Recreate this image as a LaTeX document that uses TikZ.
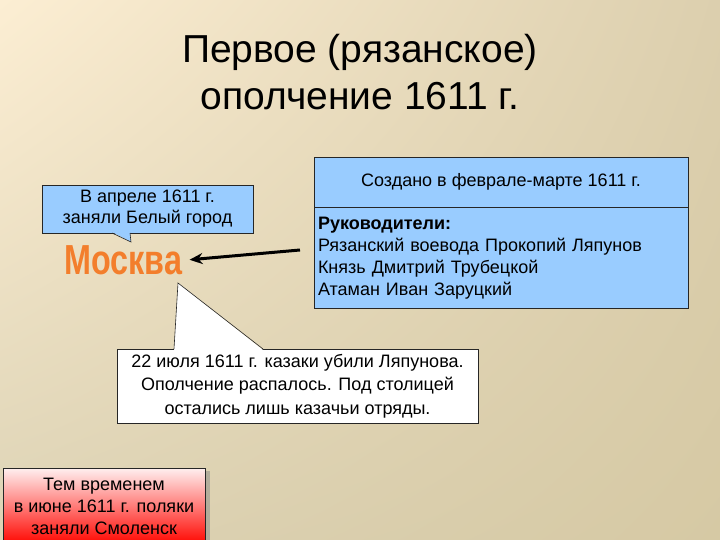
\documentclass[tikz,border=0pt]{standalone}
\usepackage{fontspec}
\setmainfont{Liberation Sans}
\usetikzlibrary{arrows.meta,shadows,shadings}

\definecolor{skyblue}{HTML}{99CCFF}
\definecolor{bgul}{HTML}{FCEED3}
\definecolor{bgur}{HTML}{DCCFAE}
\definecolor{bgll}{HTML}{DDD3B5}
\definecolor{bglr}{HTML}{D6C9A4}
\definecolor{moscoworange}{HTML}{F37E2C}

\tikzset{
  note/.style={draw=black!85, line width=0.6pt, inner sep=4pt, align=center,
    font=\fontsize{18}{23}\selectfont},
  bluenote/.style={note, fill=skyblue},
  whitenote/.style={note, fill=white},
  rednote/.style={note, top color=red!6, bottom color=red!95!orange,
    drop shadow={shadow xshift=5pt, shadow yshift=-3pt, opacity=0.45}},
  pointer/.style={draw=black!85, line width=0.6pt},
  titleline/.style={anchor=base, font=\fontsize{39}{44}\selectfont}
}

\begin{document}
\begin{tikzpicture}[x=1pt, y=-1pt]
  % background
  \useasboundingbox (0,0) rectangle (720,540);
  \shade[upper left=bgul, upper right=bgur, lower left=bgll, lower right=bglr]
    (0,0) rectangle (720,540);

  % title
  \node[titleline] (title1) at (360,63) {Первое (рязанское)};
  \node[titleline] (title2) at (360,110) {ополчение 1611 г.};

  % moscow
  \node[inner sep=0pt, anchor=base, xscale=0.77, text=moscoworange,
        font=\fontsize{42}{42}\bfseries] (moscow) at (123.5,274) {Москва};

  % right box: creation and leaders
  \node[bluenote, minimum width=374pt, minimum height=50pt] (created) at (501,182)
    {Создано в феврале-марте 1611 г.};
  \node[bluenote, minimum width=374pt, minimum height=101pt, text width=366pt,
        align=left, anchor=north, font=\fontsize{18}{22}\selectfont]
        (leaders) at (created.south)
    {\textbf{Руководители:}\\Рязанский воевода Прокопий Ляпунов\\
     Князь Дмитрий Трубецкой\\Атаман Иван Заруцкий};

  % arrow to moscow
  \coordinate (arrowtail) at (300,250);
  \draw[line width=3pt, -{Stealth[length=13pt, width=11pt]}]
    (arrowtail) -- ([xshift=7pt]moscow.east);

  % top left callout
  \node[bluenote, minimum width=211pt, minimum height=48pt,
        font=\fontsize{18}{21}\selectfont] (april) at (147.5,209)
    {В апреле 1611 г.\\заняли Белый город};
  \coordinate (aprtip) at (131,242);
  \fill[skyblue] (112,232) -- (aprtip) -- (130,232) -- cycle;
  \draw[pointer] (112,233) -- (aprtip) -- (130,233);

  % bottom callout
  \node[whitenote, minimum width=361pt, minimum height=74pt,
        font=\fontsize{18}{23.5}\selectfont] (killed) at (297.5,386)
    {22 июля 1611 г. казаки убили Ляпунова.\\Ополчение распалось. Под столицей\\
     остались лишь казачьи отряды.};
  \coordinate (killtip) at (178,283);
  \fill[white] (174,350) -- (killtip) -- (263,350) -- cycle;
  \draw[pointer] (174,349) -- (killtip) -- (263,349);

  % smolensk
  \node[rednote, minimum width=202pt, minimum height=76pt,
        font=\fontsize{18}{22}\selectfont] (smolensk) at (104,506)
    {Тем временем\\в июне 1611 г. поляки\\заняли Смоленск};
\end{tikzpicture}
\end{document}
